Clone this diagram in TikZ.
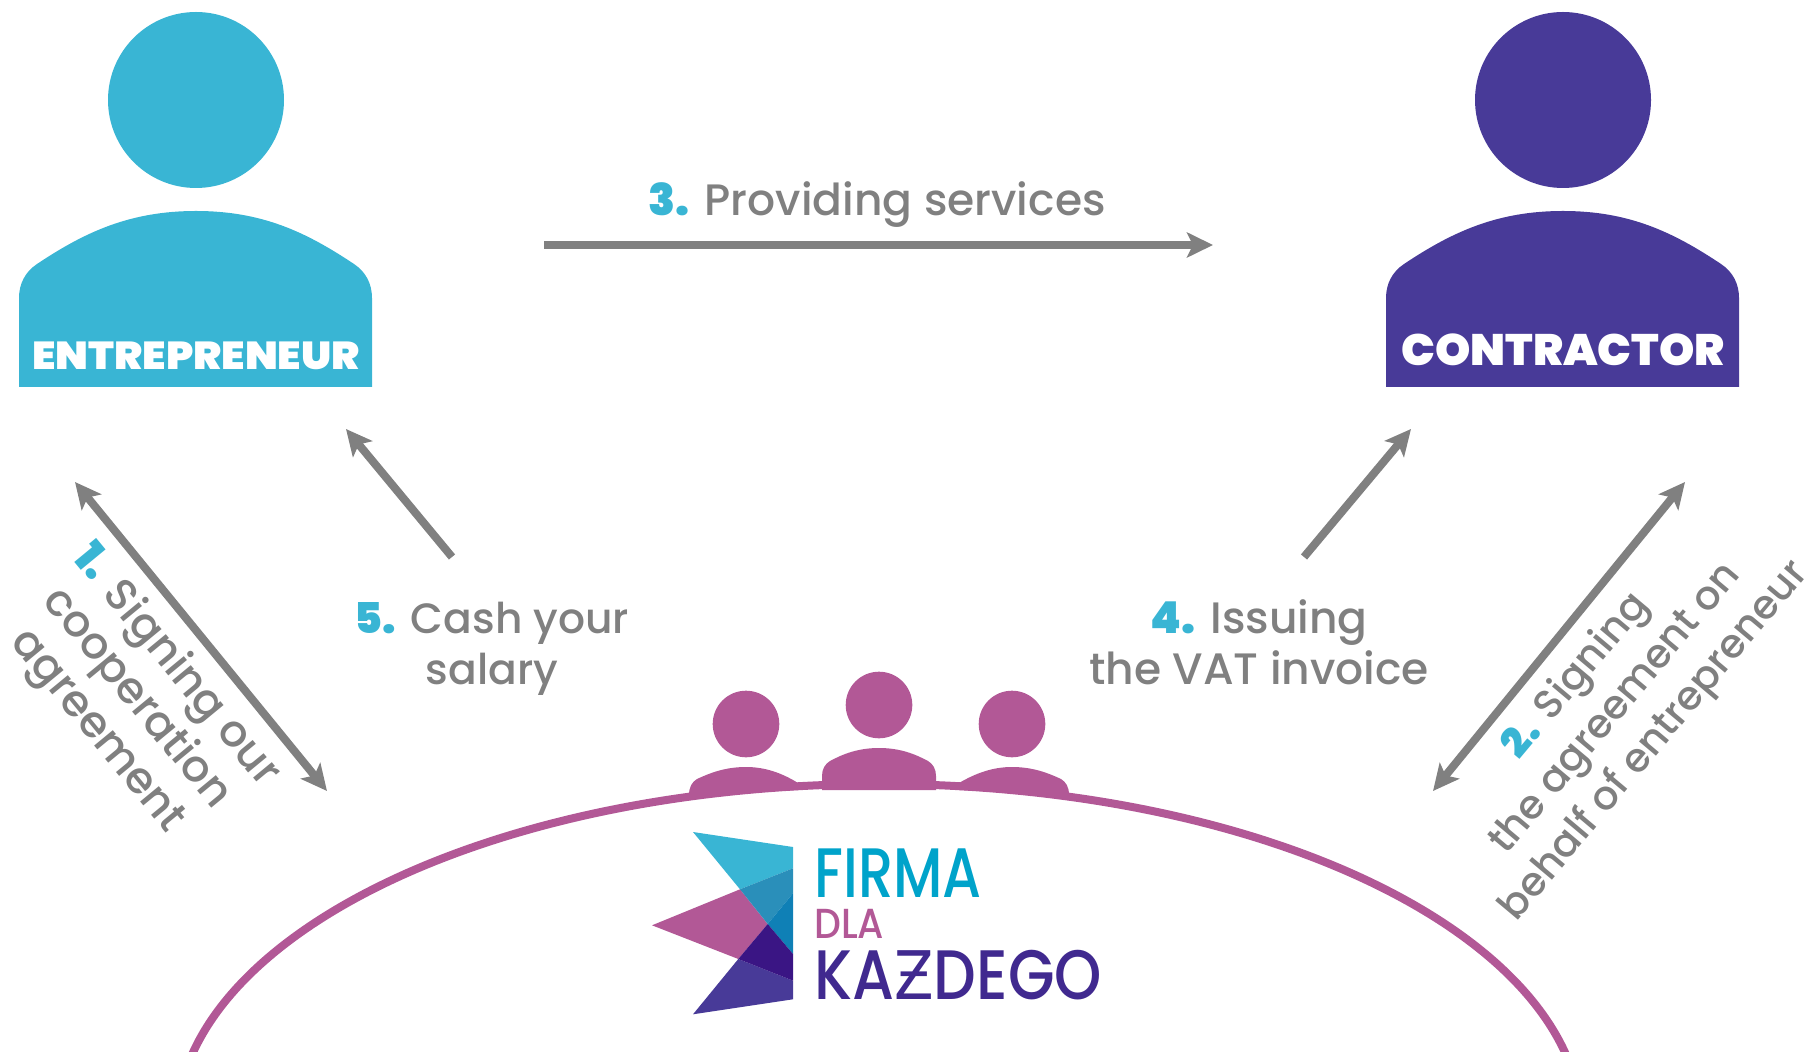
\documentclass[tikz,border=0pt]{standalone}
\usepackage{fontspec}
\usepackage{graphicx}
\setmainfont{Poppins}
\newfontfamily\medf{Poppins Medium}
\newfontfamily\xbold{Poppins ExtraBold}
\newfontfamily\blackf{Poppins Black}
\newfontfamily\logof{Poppins Medium}
\newfontfamily\zfont{DejaVu Sans}
\usetikzlibrary{arrows.meta}
\definecolor{cyanp}{HTML}{39B5D4}
\definecolor{purp}{HTML}{483A98}
\definecolor{magp}{HTML}{B25896}
\definecolor{grayp}{HTML}{808080}
\definecolor{logoc}{HTML}{00A3CA}
\definecolor{logop}{HTML}{40298F}
\definecolor{ovla}{HTML}{2A8FBA}
\definecolor{ovlb}{HTML}{0F80B6}
\definecolor{ovlc}{HTML}{3A1584}
\tikzset{
 x=0.5pt,y=-0.5pt,
 arrowline/.style={draw=grayp,line width=4pt,-{Stealth[length=13pt,width=12.5pt,inset=3pt]}},
 arrowboth/.style={draw=grayp,line width=4pt,{Stealth[length=13pt,width=12.5pt,inset=3pt]}-{Stealth[length=13pt,width=12.5pt,inset=3pt]}},
 lab/.style={text=grayp,font=\medf\fontsize{22}{25.5}\selectfont,align=center,inner sep=0pt},
 role/.style={text=white,font=\blackf\fontsize{19.5}{22}\selectfont,inner sep=0pt,anchor=base},
 logot/.style={inner sep=0pt,anchor=base west},
}
\newcommand{\num}[1]{{\color{cyanp}\blackf #1}}
\newcommand{\bigbody}[1]{
 (#1+196,211) .. controls (#1+130,211) and (#1+85,232) .. (#1+37,264)
 .. controls (#1+25,272) and (#1+19,284) .. (#1+19,298)
 -- (#1+19,387) -- (#1+372,387) -- (#1+372,298)
 .. controls (#1+372,284) and (#1+366,272) .. (#1+354,264)
 .. controls (#1+306,232) and (#1+262,211) .. (#1+196,211) -- cycle}
\begin{document}
\begin{tikzpicture}
\useasboundingbox (0,0) rectangle (1808,1052);
% big persons
\fill[cyanp] (196,100) circle [radius=88];
\fill[cyanp] \bigbody{0};
\fill[purp] (1563,100) circle [radius=88];
\fill[purp] \bigbody{1367};
\node[role] (ent) at (196,370) {\scalebox{1.08}[1]{ENTREPRENEUR}};
\node[role,font=\blackf\fontsize{22}{24}\selectfont] (con) at (1563,366) {\scalebox{1.02}[1]{CONTRACTOR}};
% small persons
\fill[magp] (746,724) circle [radius=33.3];
\fill[magp] (879,705) circle [radius=33.3];
\fill[magp] (1012,724) circle [radius=33.3];
\fill[magp] (879,748) .. controls (858,748) and (843,754) .. (830,761) .. controls (825,764) and (822,769) .. (822,776) -- (822,790) -- (936,790) -- (936,776) .. controls (936,769) and (933,764) .. (928,761) .. controls (915,754) and (900,748) .. (879,748) -- cycle;
\fill[magp] (746,767) .. controls (725,767) and (710,773) .. (697,779) .. controls (692,782) and (689,787) .. (689,795) -- (798,790) -- (798,783) .. controls (782,773) and (765,767) .. (746,767) -- cycle;
\fill[magp] (1012,767) .. controls (1033,767) and (1048,773) .. (1061,779) .. controls (1066,782) and (1069,787) .. (1069,795) -- (959,790) -- (959,783) .. controls (976,773) and (993,767) .. (1012,767) -- cycle;
% table
\begin{scope}
\clip (0,0) rectangle (1808,1052);
\draw[magp,line width=4pt] (879,1128) ellipse [x radius=703,y radius=344];
\end{scope}
% arrows
\coordinate (a3s) at (544,245); \coordinate (a3e) at (1213,245);
\coordinate (a1s) at (75,482); \coordinate (a1e) at (327,791);
\coordinate (a2s) at (1685,482); \coordinate (a2e) at (1433,791);
\coordinate (a5s) at (452,557); \coordinate (a5e) at (346,429);
\coordinate (a4s) at (1304,557); \coordinate (a4e) at (1411,429);
\draw[arrowline] (a3s) -- (a3e);
\draw[arrowboth] (a1s) -- (a1e);
\draw[arrowboth] (a2s) -- (a2e);
\draw[arrowline] (a5s) -- (a5e);
\draw[arrowline] (a4s) -- (a4e);
% labels
\node[lab,anchor=base] (l3) at (877,216) {\num{3.} Providing services};
\node[lab,anchor=base,font=\medf\fontsize{21.2}{25.5}\selectfont] (l5) at (492,684) {\num{5.} Cash your\\salary};
\node[lab,anchor=base] (l4) at (1259,684) {\num{4.} Issuing\\the VAT invoice};
\node[lab,rotate=-50.5] (l1) at (136,699) {\num{1.} Signing our\\cooperation\\agreement};
\node[lab,rotate=50,font=\medf\fontsize{20.1}{25.5}\selectfont] (l2) at (1616,709) {\num{2.} Signing\\the agreement on\\behalf of entrepreneur};
% logo
\fill[cyanp] (693,832) -- (793,847) -- (793,868.3) -- (740,889.3) -- cycle;
\fill[magp] (652,925.3) -- (740,889.3) -- (767.7,924) -- (738.3,959) -- cycle;
\fill[purp] (693,1014.3) -- (738.3,959) -- (793,980.7) -- (793,999.3) -- cycle;
\fill[ovla] (740,889.3) -- (793,868.3) -- (793,893.3) -- (767.7,924) -- cycle;
\fill[ovlb] (767.7,924) -- (793,893.3) -- (793,954) -- cycle;
\fill[ovlc] (738.3,959) -- (767.7,924) -- (793,954) -- (793,980.7) -- cycle;
\node[logot,text=logoc,font=\logof\fontsize{35}{35}\selectfont] (firma) at (814,897) {\scalebox{.8}[1]{FIRMA}};
\node[logot,text=magp,font=\logof\fontsize{21}{21}\selectfont] (dla) at (814,938) {\scalebox{.9}[1]{DLA}};
\node[logot,text=logop,font=\logof\fontsize{35}{35}\selectfont] (kaz) at (814,999) {\scalebox{.86}[1]{KA{\zfont\fontsize{33.5}{33.5}\selectfont Ƶ}DEGO}};
\end{tikzpicture}
\end{document}
